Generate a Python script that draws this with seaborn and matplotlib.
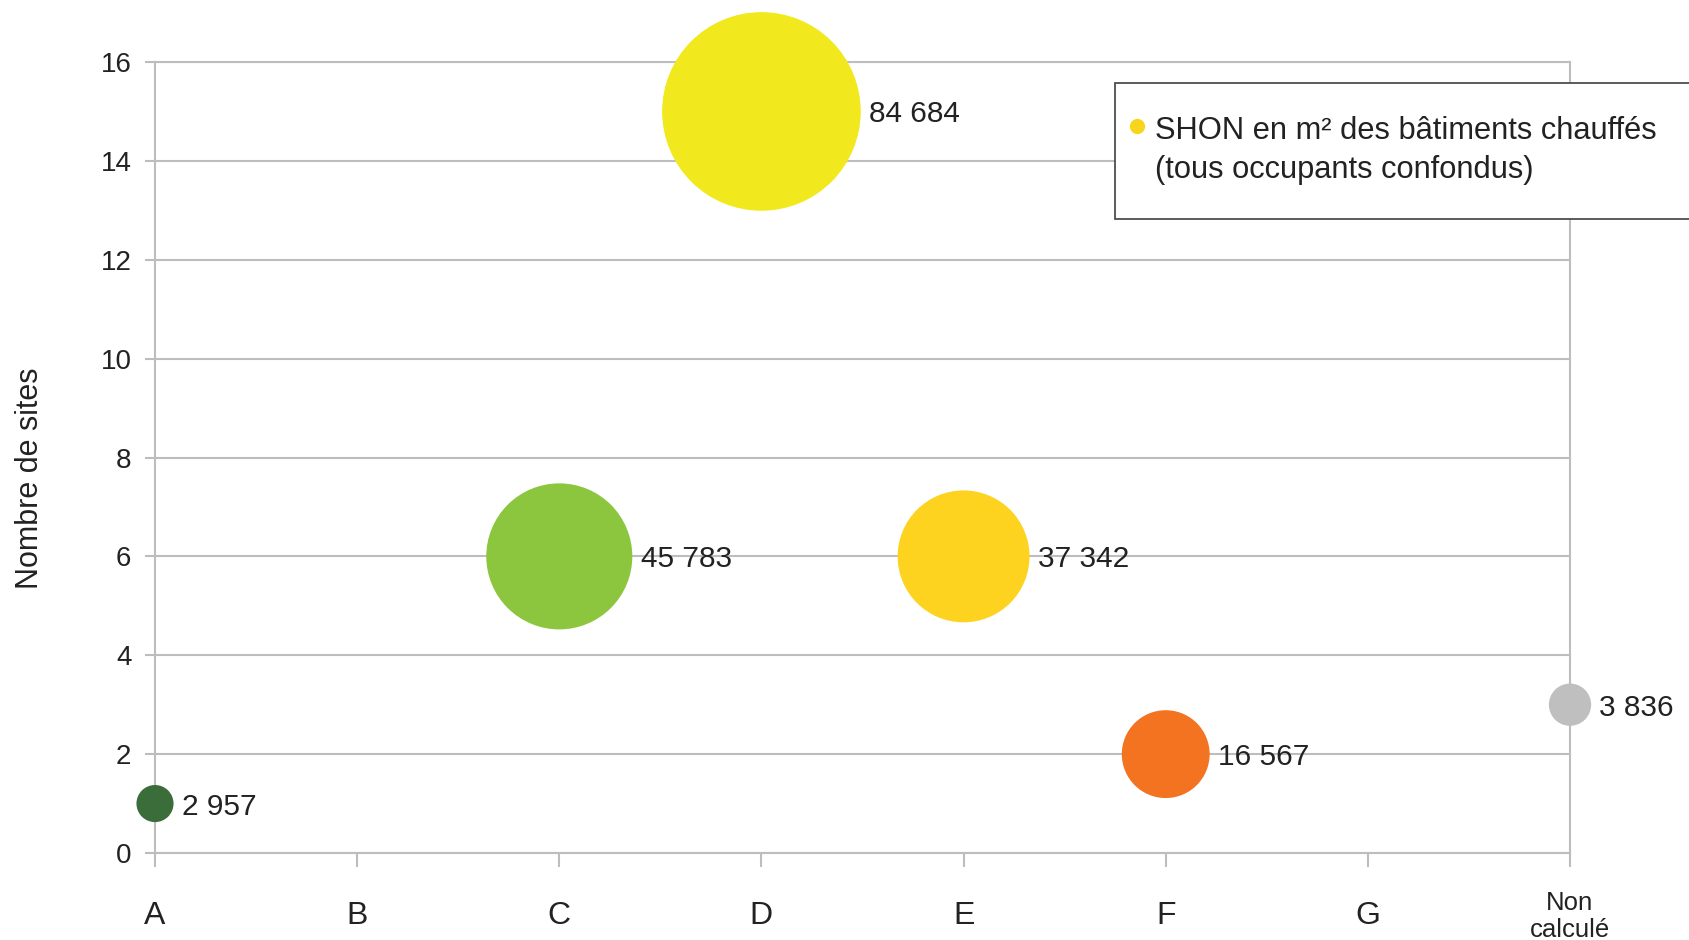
import math

import matplotlib
matplotlib.use("Agg")
import matplotlib.pyplot as plt
from matplotlib import font_manager
from matplotlib.legend_handler import HandlerLine2D
from matplotlib.lines import Line2D
from matplotlib.patches import Rectangle
import pandas as pd
import seaborn as sns

# Energy classes on the x axis and their tick labels
classes = ["A", "B", "C", "D", "E", "F", "G", "Non calculé"]
class_tick_labels = ["A", "B", "C", "D", "E", "F", "G", "Non\ncalculé"]

# One bubble per represented class
bubble_classes = ["A", "C", "D", "E", "F", "Non calculé"]
site_counts = [1, 6, 15, 6, 2, 3]
shon_m2 = [2957, 45783, 84684, 37342, 16567, 3836]
bubble_colors = ["#3a6d3a", "#8cc63f", "#f1e91d", "#fdd31f", "#f37321", "#bfbfbf"]

y_ticks = [0, 2, 4, 6, 8, 10, 12, 14, 16]
y_label = "Nombre de sites"
legend_label = "SHON en m² des bâtiments chauffés\n(tous occupants confondus)"
legend_color = "#f8d51c"

GRID = "#bdbdbd"
TEXT = "#222222"
MAX_DIAM_PT = 143.0

sns.set_theme(style="white")
installed = {f.name for f in font_manager.fontManager.ttflist}
plt.rcParams["font.family"] = ["Liberation Sans", "DejaVu Sans"]
narrow = "Liberation Sans Narrow" in installed

df = pd.DataFrame({
    "classe": bubble_classes,
    "pos": [classes.index(c) for c in bubble_classes],
    "sites": site_counts,
    "shon": shon_m2,
})

# bubble area proportional to the surface value
k = MAX_DIAM_PT ** 2 / max(shon_m2)
vmin, vmax = min(shon_m2), max(shon_m2)

fig = plt.figure(figsize=(16.89, 9.40), dpi=100)
ax = fig.add_axes([155 / 1689, 1 - 853 / 940, 1415 / 1689, 791 / 940])

sns.scatterplot(
    data=df, x="pos", y="sites", hue="classe",
    palette=dict(zip(bubble_classes, bubble_colors)),
    size="shon", sizes=(k * vmin, k * vmax), size_norm=(vmin, vmax),
    legend=False, ax=ax, clip_on=False, edgecolor="none", linewidth=0,
    alpha=1, zorder=3,
)

ax.set_xlim(0, len(classes) - 1)
ax.set_ylim(0, 16)
ax.set_yticks(y_ticks)
ax.set_yticklabels([str(t) for t in y_ticks])
ax.set_xticks(range(len(classes)))
ax.set_xticklabels(class_tick_labels)

ax.set_axisbelow(True)
ax.yaxis.grid(True, color=GRID, lw=1.5)
ax.xaxis.grid(False)
for sp in ax.spines.values():
    sp.set_visible(True)
    sp.set_color(GRID)
    sp.set_linewidth(1.5)

ax.tick_params(axis="y", left=True, length=7, width=1.5, color=GRID, pad=10,
               labelsize=20, labelcolor=TEXT, direction="out")
ax.tick_params(axis="x", bottom=True, length=10, width=1.5, color=GRID, pad=35.5,
               labelsize=23, labelcolor=TEXT, direction="out")
for lbl in ax.get_xticklabels():
    lbl.set_va("center")
last = ax.get_xticklabels()[-1]
last.set_fontsize(18.5)
last.set_linespacing(1.15)

ax.set_xlabel("")
if narrow:
    ax.set_ylabel(y_label, fontsize=27, family="Liberation Sans Narrow",
                  color=TEXT, va="center")
else:
    ax.set_ylabel(y_label, fontsize=22, color=TEXT, va="center")
ax.yaxis.set_label_coords(-0.0883, 0.4734)

# value labels to the right of each bubble
for x, y, v in zip(df["pos"], df["sites"], df["shon"]):
    r_pt = math.sqrt(k * v) / 2
    ax.annotate(f"{v:,}".replace(",", " "), (x, y), xytext=(r_pt + 6, 0),
                textcoords="offset points", ha="left", va="center_baseline",
                fontsize=21.5, color=TEXT, annotation_clip=False, zorder=4)

# legend box
fig.add_artist(Rectangle((1115 / 1689, 1 - 219 / 940), 0.5, 136 / 940,
                         transform=fig.transFigure, facecolor="white",
                         edgecolor="#404040", lw=1.2, zorder=4))


def raise_marker(legline, orig):
    # copy the dot style and put it level with the first line of the label
    legline.update_from(orig)
    legline.set_ydata([yy + 18 for yy in legline.get_ydata()])


handle = Line2D([], [], marker="o", linestyle="none", markersize=11,
                markerfacecolor=legend_color, markeredgecolor="none")
leg = fig.legend([handle], [legend_label], loc="upper left",
                 bbox_to_anchor=(1126 / 1689, 1 - 116 / 940), frameon=False,
                 fontsize=22.2, handlelength=0.7, handletextpad=0.25,
                 borderpad=0, borderaxespad=0, labelcolor=TEXT,
                 handler_map={Line2D: HandlerLine2D(update_func=raise_marker)})
for t in leg.get_texts():
    t.set_linespacing(1.38)

fig.savefig("out.png", dpi=100)
